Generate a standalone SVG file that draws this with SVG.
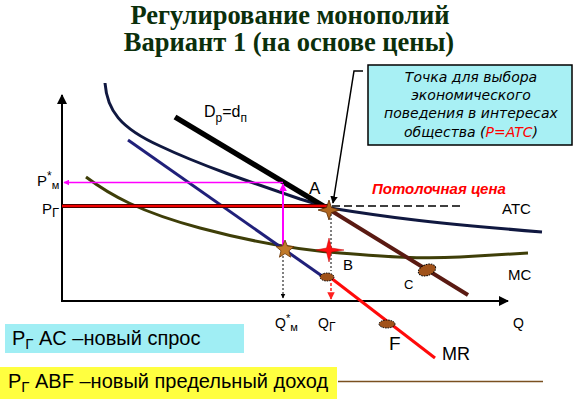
<svg xmlns="http://www.w3.org/2000/svg" width="574" height="399" viewBox="0 0 574 399">
<defs>
<style>
.t{font-family:"Liberation Sans",Arial,sans-serif;fill:#000}
.title{font-family:"Liberation Serif","Times New Roman",serif;font-weight:bold;font-size:26.5px;fill:#0b2f0b;text-anchor:middle}
.call{font-family:"DejaVu Sans",sans-serif;font-style:italic;font-size:14px;text-anchor:middle;fill:#000}
.ax{stroke:#000;stroke-width:2;fill:none}
</style>
<marker id="ah" viewBox="0 0 10 10" refX="9" refY="5" markerWidth="5" markerHeight="5" orient="auto"><path d="M0,0 L10,5 L0,10 z" fill="#000"/></marker>
<marker id="ahp" viewBox="0 0 10 10" refX="9" refY="5" markerWidth="4" markerHeight="4" orient="auto"><path d="M0,0 L10,5 L0,10 z" fill="#ff00ff"/></marker>
<marker id="ahr" viewBox="0 0 10 10" refX="9" refY="5" markerWidth="5" markerHeight="5" orient="auto"><path d="M0,0 L10,5 L0,10 z" fill="#ff2020"/></marker>
</defs>
<rect width="574" height="399" fill="#fff"/>
<g id="title">
<text class="title" x="290" y="24">Регулирование монополий</text>
<text class="title" x="289" y="51">Вариант 1 (на основе цены)</text>
</g>
<g id="connectors">
<line class="ax" x1="62" y1="301" x2="62" y2="95" marker-end="url(#ah)"/>
<line class="ax" x1="61" y1="301" x2="508" y2="301" marker-end="url(#ah)"/>
<path id="mc" d="M86,177 C110,195 140,212 200,228 C260,244 300,250 340,253 C390,257 420,259 460,257 L528,253" fill="none" stroke="#3e3e08" stroke-width="3"/>
<path id="atc" d="M105,83 C107,110 120,128 160,146 C200,165 250,182 300,199 L330,208 C380,216 420,222 542,232" fill="none" stroke="#101840" stroke-width="3"/>
<line x1="128" y1="140" x2="322" y2="276" stroke="#20207a" stroke-width="3"/>
<line x1="331" y1="278" x2="435" y2="358" stroke="#ff0a0a" stroke-width="3"/>
<line x1="175" y1="117" x2="330" y2="210" stroke="#000" stroke-width="5.5"/>
<line x1="330" y1="210" x2="468" y2="295" stroke="#5a1a12" stroke-width="4"/>
<line x1="62" y1="206" x2="330" y2="206" stroke="#500000" stroke-width="4"/>
<line x1="62" y1="206" x2="330" y2="206" stroke="#f00000" stroke-width="2"/>
<line x1="332" y1="206" x2="460" y2="206" stroke="#000" stroke-width="1.5" stroke-dasharray="8,4"/>
<line x1="283" y1="248" x2="283" y2="184" stroke="#ff00ff" stroke-width="2" marker-end="url(#ahp)"/>
<line x1="283" y1="182.5" x2="64" y2="182.5" stroke="#ff00ff" stroke-width="1.5" marker-end="url(#ahp)"/>
<line x1="283" y1="256" x2="283" y2="298" stroke="#000" stroke-width="1" stroke-dasharray="2,2" marker-end="url(#ah)"/>
<line x1="331" y1="214" x2="331" y2="271" stroke="#000" stroke-width="1" stroke-dasharray="2,2"/>
<line x1="331" y1="283" x2="331" y2="299" stroke="#ff2020" stroke-width="1.5" stroke-dasharray="3,2" marker-end="url(#ahr)"/>
<polyline points="363,71 354,71 333,203" fill="none" stroke="#000" stroke-width="1.5" marker-end="url(#ah)"/>
<line x1="338" y1="381.5" x2="543" y2="381.5" stroke="#7a5020" stroke-width="1.5"/>
</g>
<g id="pointA">
<path d="M329,200 L331.5,207.5 L340,210 L331.5,212.5 L329,220 L326.5,212.5 L318,210 L326.5,207.5 Z" fill="#b0651e" stroke="#5a2a00" stroke-width="0.8"/>
<text class="t" x="309" y="194" font-size="17">A</text>
</g>
<g id="star5">
<path d="M285,240 L287.4,246 L294,246.5 L289,250.8 L290.6,257.2 L285,253.6 L279.4,257.2 L281,250.8 L276,246.5 L282.6,246 Z" fill="#c07a2a" stroke="#6a3400" stroke-width="0.8"/>
</g>
<g id="pointB">
<path d="M329,238 L331.5,248 L344,250 L331.5,252 L329,262 L326.5,252 L316,250 L326.5,248 Z" fill="#ff1010" stroke="#c00000" stroke-width="0.5"/>
<ellipse cx="327" cy="277" rx="7" ry="4" fill="#a0521a" stroke="#000" stroke-width="1" stroke-dasharray="1.5,1"/>
<text class="t" x="343" y="270" font-size="15">B</text>
</g>
<g id="pointC">
<ellipse cx="427" cy="270" rx="9" ry="5.5" transform="rotate(-20 427 270)" fill="#a0521a" stroke="#000" stroke-width="1" stroke-dasharray="1.5,1"/>
<text class="t" x="404" y="289" font-size="13">C</text>
</g>
<g id="pointF">
<ellipse cx="387" cy="324" rx="8" ry="4" fill="#a0521a" stroke="#000" stroke-width="1" stroke-dasharray="1.5,1"/>
<text class="t" x="389" y="350" font-size="19">F</text>
</g>
<g id="labels">
<text class="t" x="204" y="117" font-size="16">D<tspan font-size="12" dy="5">р</tspan><tspan dy="-5">=d</tspan><tspan font-size="12" dy="5">п</tspan></text>
<text class="t" x="37" y="186" font-size="15">P<tspan font-size="12" dy="-6">*</tspan><tspan font-size="11" dy="9">м</tspan></text>
<text class="t" x="42" y="214" font-size="15">P<tspan font-size="13" dy="3">Г</tspan></text>
<text x="372" y="194" font-family="Liberation Sans,Arial,sans-serif" font-size="15" font-weight="bold" font-style="italic" fill="#ff0000">Потолочная цена</text>
<text class="t" x="502" y="214" font-size="15">ATC</text>
<text class="t" x="508" y="280" font-size="15">MC</text>
<text class="t" x="442" y="360" font-size="18">MR</text>
<text class="t" x="275" y="328" font-size="14">Q<tspan font-size="11" dy="-6">*</tspan><tspan font-size="11" dy="9">м</tspan></text>
<text class="t" x="318" y="328" font-size="14">Q<tspan font-size="12" dy="3">Г</tspan></text>
<text class="t" x="513" y="328" font-size="14">Q</text>
</g>
<g id="callout">
<rect x="368" y="65" width="204" height="80" fill="#a8f0f4" stroke="#000" stroke-width="1.5"/>
<text class="call" x="471" y="82">Точка для выбора</text>
<text class="call" x="471" y="100">экономического</text>
<text class="call" x="471" y="118">поведения в интересах</text>
<text class="call" x="471" y="137">общества (<tspan fill="#ff0000">P=ATC</tspan>)</text>
</g>
<g id="box1">
<rect x="5" y="324" width="239" height="29" fill="#a0eef4"/>
<text class="t" x="12" y="345" font-size="20">P<tspan font-size="15" dy="4">Г</tspan><tspan dy="-4"> AC –новый спрос</tspan></text>
</g>
<g id="box2">
<rect x="0" y="367" width="337" height="32" fill="#ffff40"/>
<text class="t" x="8" y="388" font-size="20">P<tspan font-size="15" dy="4">Г</tspan><tspan dy="-4"> ABF –новый предельный доход</tspan></text>
</g>
</svg>
